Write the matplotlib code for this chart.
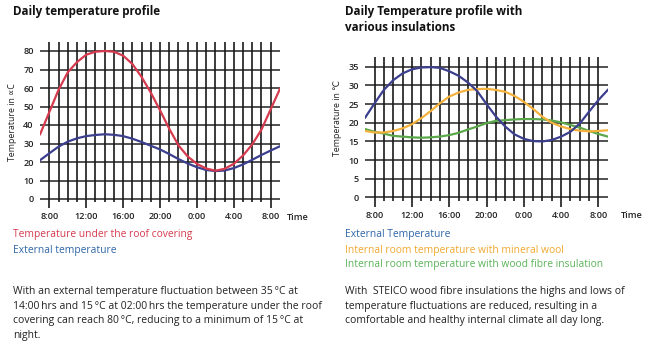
import matplotlib
matplotlib.use("Agg")
import matplotlib.pyplot as plt

# ---------------- data ----------------
hours = list(range(7, 34))  # 7:00 .. 9:00 next day
tick_hours = [8, 12, 16, 20, 24, 28, 32]
tick_labels = ["8:00", "12:00", "16:00", "20:00", "0:00", "4:00", "8:00"]

roof_temp = [35, 47, 59, 68.5, 74, 78, 79.6, 80, 79.6, 77.5, 73, 66, 57.5, 48,
             38, 29, 23, 19, 16.5, 15.3, 16.3, 19, 23.5, 29.5, 37.5, 48.5, 59.5]
ext_left = [21, 24.7, 28.3, 31, 32.8, 34, 34.6, 35, 34.7, 34, 32.6, 30.8, 28.8,
            26.8, 24.3, 21.6, 19.2, 17.2, 15.7, 15.1, 15.4, 16.7, 18.7, 21.2,
            23.8, 26.2, 28.5]

ext_right = [21.4, 25.2, 28.8, 31.4, 33.2, 34.3, 34.8, 34.9, 34.7, 33.8, 32.6,
             30.8, 28.5, 25.0, 21.7, 19.0, 16.9, 15.7, 15.1, 15.0, 15.4, 16.3,
             17.6, 19.8, 23.0, 26.1, 28.8]
mineral_wool = [17.8, 17.4, 17.4, 17.8, 18.5, 19.6, 21.2, 23.1, 25.2, 27, 28.1,
                28.8, 29, 29.1, 28.8, 28.3, 27.2, 25.6, 23.7, 21.6, 20, 19, 18.3,
                17.9, 17.7, 17.8, 18]
wood_fibre = [18.3, 17.6, 17.1, 16.5, 16.3, 16.1, 16, 16.1, 16.3, 16.7, 17.3,
              18.2, 19, 19.9, 20.5, 20.7, 20.9, 21, 21, 20.9, 20.6, 20.1, 19.4,
              18.7, 17.8, 17, 16.3]

left_yticks = [0, 10, 20, 30, 40, 50, 60, 70, 80]
right_yticks = [0, 5, 10, 15, 20, 25, 30, 35]

# ---------------- styling ----------------
W, H = 650, 349
FONT = "Open Sans"
RED = "#d63a4e"
NAVY = "#3b3f8e"
BLUE_TXT = "#2f66a6"
ORANGE = "#f4b23c"
ORANGE_TXT = "#f0a830"
GREEN = "#5aa84a"
GREEN_TXT = "#5cb35a"
TXT = "#222222"

plt.rcParams["font.family"] = [FONT, "DejaVu Sans"]

fig = plt.figure(figsize=(W / 100, H / 100), dpi=100)


def px_axes(x0, x1, y_top, y_bot):
    return fig.add_axes([x0 / W, 1 - y_bot / H, (x1 - x0) / W, (y_bot - y_top) / H])


def grid_axes(ax, yticks, ytop, minor_bot, major_bot, ylim):
    ax.set_xlim(7, 33)
    ax.set_ylim(*ylim)
    for s in ax.spines.values():
        s.set_visible(False)
    for yv in yticks:
        ax.plot([7, 33], [yv, yv], color="#333333", lw=1.2, zorder=1,
                solid_capstyle="butt")
    for h in range(8, 33):
        bot = major_bot if h in tick_hours else minor_bot
        ax.plot([h, h], [bot, ytop], color="#1a1a1a", lw=1.2, zorder=1,
                solid_capstyle="butt")
    ax.set_xticks(tick_hours)
    ax.set_xticklabels(tick_labels)
    ax.set_yticks(yticks)
    ax.tick_params(axis="both", length=0, labelsize=6.6, colors=TXT)
    ax.tick_params(axis="x", pad=1.5)
    ax.tick_params(axis="y", pad=4.5)
    for lab in ax.get_xticklabels() + ax.get_yticklabels():
        lab.set_fontweight("semibold")


# ---------------- left chart ----------------
axL = px_axes(40.1, 279.9, 41.75, 210.1)
grid_axes(axL, left_yticks, 85, -1.5, -5, (-6, 85))
axL.plot(hours, ext_left, color=NAVY, lw=1.6, zorder=3)
axL.plot(hours, roof_temp, color=RED, lw=1.6, zorder=4)

# ---------------- right chart ----------------
axR = px_axes(365.2, 607.8, 57.4, 208.7)
grid_axes(axR, right_yticks, 37.5, -1, -2.5, (-3, 37.5))
axR.plot(hours, wood_fibre, color=GREEN, lw=1.6, zorder=3)
axR.plot(hours, mineral_wool, color=ORANGE, lw=1.6, zorder=4)
axR.plot(hours, ext_right, color=NAVY, lw=1.6, zorder=5)


def ftext(x, y, s, **kw):
    fig.text(x / W, 1 - y / H, s, **kw)


# axis labels
ftext(13, 122, "Temperature in ∝C", rotation=90, fontsize=6.3, color=TXT,
      ha="center", va="center")
ftext(338, 118, "Temperature in ℃", rotation=90, fontsize=6.3, color=TXT,
      ha="center", va="center", family=[FONT, "DejaVu Sans"])
ftext(298, 217, "Time", fontsize=6.6, color=TXT, ha="center", va="center",
      fontweight="semibold")
ftext(632, 216, "Time", fontsize=6.6, color=TXT, ha="center", va="center",
      fontweight="semibold")

# titles
ftext(13, 12, "Daily temperature profile", fontsize=8.35, fontweight="bold",
      color="#111111", ha="left", va="center")
ftext(345, 12, "Daily Temperature profile with", fontsize=8.35, fontweight="bold",
      color="#111111", ha="left", va="center")
ftext(345, 27.5, "various insulations", fontsize=8.35, fontweight="bold",
      color="#111111", ha="left", va="center")

# legends
LFS = 7.4
ftext(13, 235, "Temperature under the roof covering", fontsize=LFS, color=RED,
      ha="left", va="center")
ftext(13, 250, "External temperature", fontsize=LFS, color=BLUE_TXT,
      ha="left", va="center")
ftext(345, 235, "External Temperature", fontsize=LFS, color=BLUE_TXT,
      ha="left", va="center")
ftext(345, 250, "Internal room temperature with mineral wool", fontsize=LFS,
      color=ORANGE_TXT, ha="left", va="center")
ftext(345, 265, "Internal room temperature with wood fibre insulation",
      fontsize=LFS, color=GREEN_TXT, ha="left", va="center")

# paragraphs
left_par = ["With an external temperature fluctuation between 35\u2009°C at",
            "14:00\u2009hrs and 15\u2009°C at 02:00\u2009hrs the temperature under the roof",
            "covering can reach 80\u2009°C, reducing to a minimum of 15\u2009°C at",
            "night."]
right_par = ["With  STEICO wood fibre insulations the highs and lows of",
             "temperature fluctuations are reduced, resulting in a",
             "comfortable and healthy internal climate all day long."]
PFS = 7.45
for i, line in enumerate(left_par):
    ftext(13, 291.7 + i * 14.5, line, fontsize=PFS, color=TXT, ha="left",
          va="center")
for i, line in enumerate(right_par):
    ftext(345, 291.7 + i * 14.5, line, fontsize=PFS, color=TXT, ha="left",
          va="center")

fig.savefig("out.png", dpi=100)
